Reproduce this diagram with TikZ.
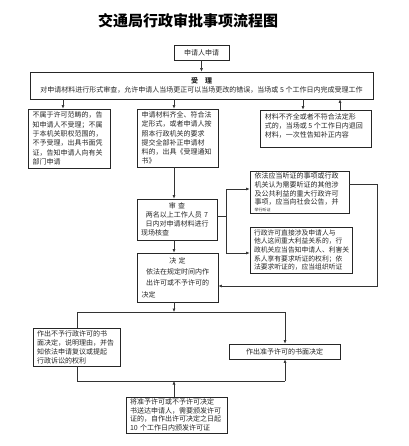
\documentclass[tikz,border=0pt]{standalone}
\usepackage{fontspec}
\setmainfont{Noto Sans CJK SC}
\usetikzlibrary{arrows.meta}
\tikzset{
  bx/.style={draw=black!85, line width=0.7pt, inner sep=0pt, align=left,
    font=\fontsize{7}{9.3}\selectfont, text=black!85},
  tx/.style={inner sep=0pt, align=left, font=\fontsize{7}{9.3}\selectfont, text=black!85},
  ln/.style={draw=black!80, line width=0.6pt},
  arr/.style={ln, -{Latex[length=3.5pt,width=3pt]}}
}
\begin{document}
\begin{tikzpicture}[x=1pt,y=-1pt]
\useasboundingbox (0,0) rectangle (408,446);
\node[inner sep=0pt, font=\fontsize{15}{15}\selectfont\bfseries] (title) at (188,21) {交通局行政审批事项流程图};

\node[bx, minimum width=55pt, minimum height=15pt, align=center] (app) at (201.5,52.5) {申请人申请};
\node[bx, minimum width=343pt, minimum height=27pt, align=center] (sl) at (201.5,85.5)
  {{\bfseries 受\quad 理}\\对申请材料进行形式审查，允许申请人当场更正可以当场更改的错误，当场或 5 个工作日内完成受理工作};

\node[bx, minimum width=82pt, minimum height=59pt, text width=73pt] (lb) at (69,138.5)
  {不属于许可范畴的，告\\知申请人不受理；不属\\于本机关职权范围的，\\不予受理，出具书面凭\\证，告知申请人向有关\\部门申请};
\node[bx, minimum width=81pt, minimum height=58pt, text width=72pt] (mb) at (177.5,138)
  {申请材料齐全、符合法\\定形式，或者申请人按\\照本行政机关的要求\\提交全部补正申请材\\料的，出具《受理通知\\书》};
\node[bx, minimum width=111pt, minimum height=37pt] (rb) at (315.5,128.5) {};
\node[tx, anchor=north west] (rbt) at ([shift={(5,3.5)}]rb.north west)
  {材料不齐全或者不符合法定形\\式的，当场或 5 个工作日内退回\\材料，一次性告知补正内容};

\node[bx, minimum width=80pt, minimum height=41pt, text width=72pt, font=\fontsize{7}{8.8}\selectfont] (sc) at (177,219.5)
  {\centering 审\ 查\par 两名以上工作人员 7\\日内对申请材料进行\\现场核查};
\node[bx, minimum width=81pt, minimum height=49pt, text width=72pt, font=\fontsize{7}{11.3}\selectfont] (jd) at (177.5,277.5)
  {\centering 决\ 定\par 依法在规定时间内作\\出许可或不予许可的\\决定};

\node[bx, minimum width=99pt, minimum height=42pt, text width=90pt, font=\fontsize{7}{8.8}\selectfont] (h1) at (299.5,192)
  {依法应当听证的事项或行政\\机关认为需要听证的其他涉\\及公共利益的重大行政许可\\事项，应当向社会公告，并\\[-2.5pt]{\fontsize{4}{4}\selectfont 举行听证}};
\node[bx, minimum width=102pt, minimum height=46pt, text width=94pt, font=\fontsize{6.8}{8.6}\selectfont] (h2) at (301,250)
  {行政许可直接涉及申请人与\\他人这间重大利益关系的，行\\政机关应当告知申请人、利害关\\系人享有要求听证的权利；依\\法要求听证的，应当组织听证};

\node[bx, minimum width=87pt, minimum height=38pt, text width=79pt, font=\fontsize{7}{9}\selectfont] (by) at (76.5,347)
  {作出不予行政许可的书\\面决定，说明理由，并告\\知依法申请复议或提起\\行政诉讼的权利};
\node[bx, minimum width=111pt, minimum height=15pt, align=center] (zy) at (284.5,351.5) {作出准予许可的书面决定};
\node[bx, minimum width=101pt, minimum height=36pt, text width=93pt, font=\fontsize{7}{8.6}\selectfont] (bt) at (176.5,415)
  {将准予许可或不予许可决定\\书送达申请人，需要颁发许可\\证的，自作出许可决定之日起\\10 个工作日内颁发许可证};

% helper positions
\coordinate (x63) at (63,0);
\coordinate (x174) at (174,0);
\coordinate (x303) at (303,0);
\coordinate (x340) at (340,0);
\coordinate (x226) at (226,0);
\coordinate (x377) at (377,0);
\coordinate (x77) at (77,0);
\coordinate (x285) at (285,0);
\coordinate (y189) at (0,189);
\coordinate (y253) at (0,253);
\coordinate (y216) at (0,216);
\coordinate (y184) at (0,184);
\coordinate (y286) at (0,286);
\coordinate (y312) at (0,312);
\coordinate (y381) at (0,381);

\draw[arr] (app.south) -- (app.south |- sl.north);
\draw[arr] (sl.south -| x63) -- (lb.north -| x63);
\draw[arr] (sl.south -| x174) -- (mb.north -| x174);
\draw[arr] (sl.south -| x303) -- (rb.north -| x303);
\draw[arr] (rb.north -| x340) -- (sl.south -| x340);
\draw[arr] (mb.south -| x174) -- (sc.north -| x174);
\draw[arr] (sc.south -| x174) -- (jd.north -| x174);

\coordinate (sj) at (x226 |- y216);
\draw[ln] (sc.east |- y216) -- (sj);
\draw[arr] (sj) -- (x226 |- y189) -- (h1.west |- y189);
\draw[arr] (sj) -- (x226 |- y253) -- (h2.west |- y253);
\draw[arr] (h1.east |- y184) -- (x377 |- y184) -- (x377 |- y286) -- (jd.east |- y286);

\coordinate (dj) at (x174 |- y312);
\draw[arr] (jd.south -| x174) -- (dj);
\draw[ln] (x77 |- y312) -- (x285 |- y312);
\draw[ln] (x77 |- y312) -- (by.north -| x77);
\draw[arr] (x285 |- y312) -- (zy.north -| x285);

\coordinate (bj) at (x174 |- y381);
\draw[ln] (by.south -| x77) -- (x77 |- y381) -- (x285 |- y381);
\draw[arr] (x285 |- y381) -- (zy.south -| x285);
\draw[arr] (bt.north -| x174) -- (bj);
\end{tikzpicture}
\end{document}
